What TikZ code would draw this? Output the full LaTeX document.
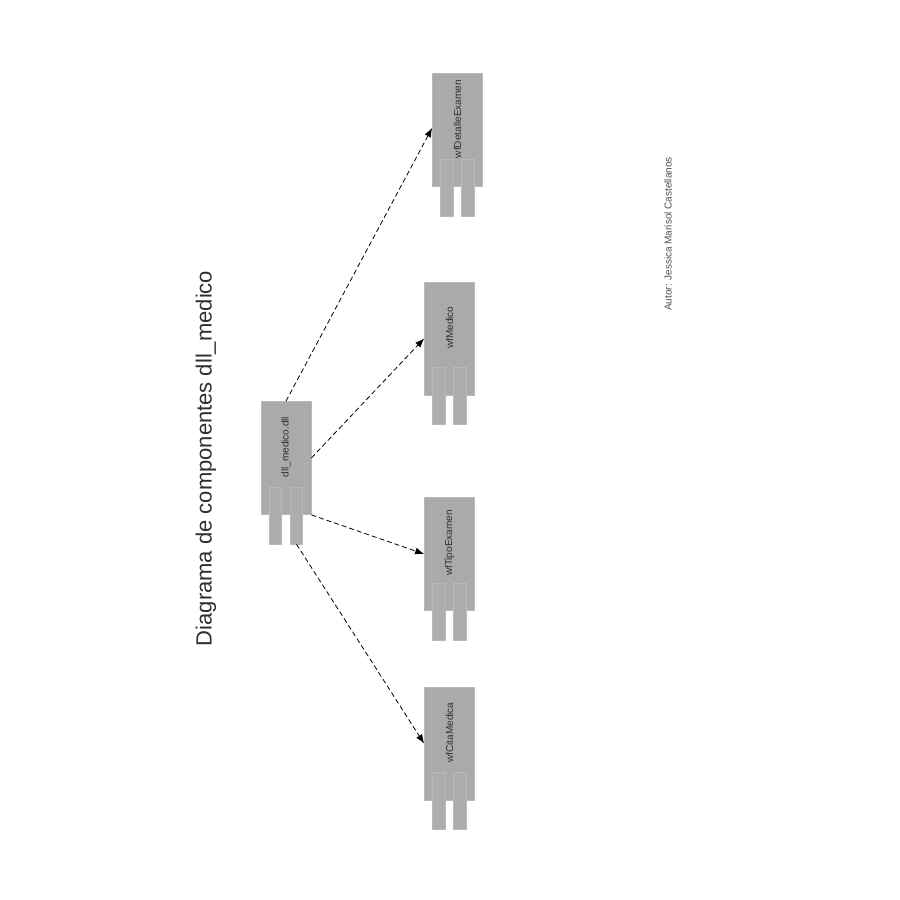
\documentclass[tikz,border=0pt]{standalone}
\usepackage{fontspec}
\setmainfont{Liberation Sans}
\usetikzlibrary{arrows.meta}
\definecolor{boxfill}{HTML}{AAAAAA}
\definecolor{boxline}{HTML}{B9B9B9}
\definecolor{pinfill}{HTML}{ADADAD}
\definecolor{txt}{HTML}{2E2E2E}
\begin{document}
\begin{tikzpicture}[x=1pt,y=-1pt,
  comp/.style={rectangle,fill=boxfill,draw=boxline,line width=0.8pt,minimum width=50pt,minimum height=113pt,inner sep=0pt},
  pin/.style={rectangle,fill=pinfill,draw=boxline,line width=0.7pt,minimum width=12.5pt,minimum height=57pt,inner sep=0pt},
  clabel/.style={rotate=90,font=\fontsize{10}{12}\selectfont,text=txt,inner sep=0pt},
  dep/.style={draw=black,line width=0.8pt,dash pattern=on 5pt off 3pt,-{Latex[length=9pt,width=7pt]}}
]
\useasboundingbox (0,0) rectangle (900,900);

% title and author
\node[rotate=90,font=\fontsize{22}{26}\selectfont,text=txt,inner sep=0pt] (title) at (206,458.5) {Diagrama de componentes dll\_medico};
\node[rotate=90,font=\fontsize{10}{12}\selectfont,text=txt!85,inner sep=0pt] (author) at (668,234) {Autor: Jessica Marisol Castellanos};

% components
\foreach \nm/\cx/\cy/\lbl in {dll/286/458/dll\_medico.dll, det/457.5/130/wfDetalleExamen, med/449.5/338.5/wfMedico, tip/449.5/554/wfTipoExamen, cit/449.5/743.5/wfCitaMedica}{
  \node[comp] (\nm) at (\cx,\cy) {};
  \node[pin] (\nm pinl) at ([xshift=-10.5pt,yshift=-0.5pt]\nm.south) {};
  \node[pin] (\nm pinr) at ([xshift=10.5pt,yshift=-0.5pt]\nm.south) {};
  \node[clabel] (\nm lbl) at ([yshift=-46pt]\nm.north) {\lbl};
}

% dependencies
\draw[dep] (dll.north) -- ([yshift=2pt]det.west);
\draw[dep] (dll.east) -- (med.west);
\draw[dep] (dll.south east) -- (tip.west);
\draw[dep] (dllpinr.south) -- (cit.west);
\end{tikzpicture}
\end{document}
